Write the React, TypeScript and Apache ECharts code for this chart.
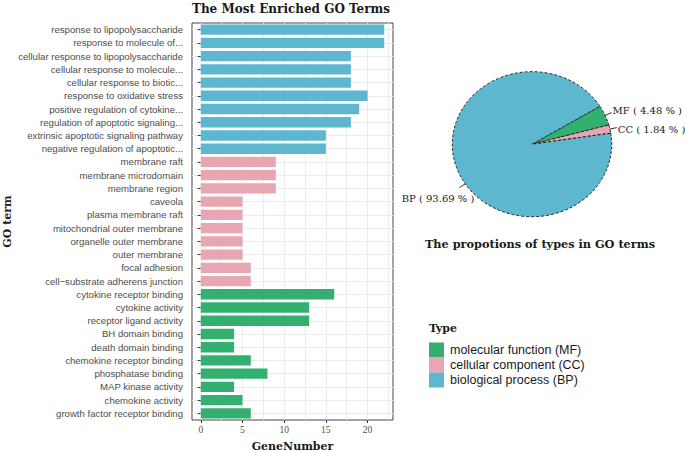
import React, { useEffect, useRef } from "react";
import * as echarts from "echarts";

// ---------- data ----------
const bpTerms = [
  "response to lipopolysaccharide",
  "response to molecule of...",
  "cellular response to lipopolysaccharide",
  "cellular response to molecule...",
  "cellular response to biotic...",
  "response to oxidative stress",
  "positive regulation of cytokine...",
  "regulation of apoptotic signaling...",
  "extrinsic apoptotic signaling pathway",
  "negative regulation of apoptotic...",
];
const bpCounts = [22, 22, 18, 18, 18, 20, 19, 18, 15, 15];

const ccTerms = [
  "membrane raft",
  "membrane microdomain",
  "membrane region",
  "caveola",
  "plasma membrane raft",
  "mitochondrial outer membrane",
  "organelle outer membrane",
  "outer membrane",
  "focal adhesion",
  "cell\u2212substrate adherens junction",
];
const ccCounts = [9, 9, 9, 5, 5, 5, 5, 5, 6, 6];

const mfTerms = [
  "cytokine receptor binding",
  "cytokine activity",
  "receptor ligand activity",
  "BH domain binding",
  "death domain binding",
  "chemokine receptor binding",
  "phosphatase binding",
  "MAP kinase activity",
  "chemokine activity",
  "growth factor receptor binding",
];
const mfCounts = [16, 13, 13, 4, 4, 6, 8, 4, 5, 6];

const typeNames = ["molecular function (MF)", "cellular component (CC)", "biological process (BP)"];
const pieLabels = ["MF", "CC", "BP"];
const piePercents = [4.48, 1.84, 93.69];

const xMajorTicks = [0, 5, 10, 15, 20];
const xMinorGrid = [0, 2.5, 5, 7.5, 10, 12.5, 15, 17.5, 20, 22.5];

// ---------- style ----------
const COLORS = { MF: "#33b06f", CC: "#e8a6b3", BP: "#5db7cf" };
const SERIF_BOLD = '"DejaVu Serif", serif';
const SANS = '"Liberation Sans", Arial, sans-serif';

export default function App() {
  const ref = useRef<HTMLDivElement>(null);

  useEffect(() => {
    document.body.style.margin = "0";
    if (!ref.current) return;
    const chart = echarts.init(ref.current, null, { renderer: "svg" });

    const categories = [...bpTerms, ...ccTerms, ...mfTerms];
    const seriesData = (terms: string[], counts: number[]) =>
      categories.map((c) => {
        const i = terms.indexOf(c);
        return i >= 0 ? counts[i] : "-";
      });

    const groups = [
      { name: typeNames[0], color: COLORS.MF, data: seriesData(mfTerms, mfCounts) },
      { name: typeNames[1], color: COLORS.CC, data: seriesData(ccTerms, ccCounts) },
      { name: typeNames[2], color: COLORS.BP, data: seriesData(bpTerms, bpCounts) },
    ];

    // pie geometry (ellipse)
    const pcx = 532, pcy = 144.2, rx = 79.7, ry = 72.5;
    const startDeg = 31.5;
    const pieColors = [COLORS.MF, COLORS.CC, COLORS.BP];
    const labelAngleShift = [0, 0, -13];
    const labelOffsets = [
      { dx: 1, dy: -2, align: "left" },
      { dx: 1, dy: 1.5, align: "left" },
      { dx: 15, dy: 11, align: "right" },
    ];
    const total = piePercents.reduce((a, b) => a + b, 0);

    const renderPie = (params: any) => {
      const i = params.dataIndex;
      let start = (-startDeg * Math.PI) / 180;
      for (let j = 0; j < i; j++) start += (piePercents[j] / total) * Math.PI * 2;
      const end = start + (piePercents[i] / total) * Math.PI * 2;
      const mid = (start + end) / 2 + (labelAngleShift[i] * Math.PI) / 180;
      const px = rx * Math.cos(mid), py = ry * Math.sin(mid);
      const qx = (rx + 7) * Math.cos(mid), qy = (ry + 7) * Math.sin(mid);
      const off = labelOffsets[i];
      return {
        type: "group",
        x: pcx,
        y: pcy,
        children: [
          {
            type: "sector",
            scaleY: ry / rx,
            shape: { cx: 0, cy: 0, r0: 0, r: rx, startAngle: start, endAngle: end, clockwise: true },
            style: {
              fill: pieColors[i],
              stroke: "#1a1a1a",
              lineWidth: 1,
              lineDash: [3, 2],
              strokeNoScale: true,
            },
          },
          {
            type: "line",
            shape: { x1: px, y1: py, x2: qx, y2: qy },
            style: { stroke: "#1a1a1a", lineWidth: 0.9 },
          },
          {
            type: "text",
            x: qx + off.dx,
            y: qy + off.dy,
            style: {
              text: `${pieLabels[i]} ( ${piePercents[i].toFixed(2)} % )`,
              font: '10px "DejaVu Serif", serif',
              fill: "#1a1a1a",
              align: off.align,
              verticalAlign: "middle",
            },
          },
        ],
      };
    };

    const option: any = {
      animation: false,
      backgroundColor: "#ffffff",
      grid: {
        left: 192,
        top: 23,
        width: 201,
        height: 397,
        show: true,
        borderColor: "#444444",
        borderWidth: 1,
        backgroundColor: "transparent",
        containLabel: false,
        outerBoundsMode: "none",
      },
      legend: {
        orient: "vertical",
        left: 429,
        top: 342.5,
        padding: 0,
        itemWidth: 15,
        itemHeight: 15,
        itemGap: 0,
        icon: "rect",
        selectedMode: false,
        data: typeNames,
        textStyle: { fontFamily: SANS, fontSize: 12.5, color: "#1a1a1a", padding: [0, 0, 0, 1] },
      },
      xAxis: [
        {
          type: "value",
          min: -1.05,
          max: 23.05,
          position: "bottom",
          name: "GeneNumber",
          nameLocation: "middle",
          nameGap: 21,
          nameTextStyle: { fontFamily: SERIF_BOLD, fontWeight: "bold", fontSize: 11, color: "#1a1a1a" },
          axisLine: { show: false },
          axisTick: { show: true, length: 3, customValues: xMajorTicks, lineStyle: { color: "#333333" } },
          axisLabel: {
            customValues: xMajorTicks,
            fontFamily: '"Liberation Serif", serif',
            fontSize: 9.5,
            color: "#4d4d4d",
            margin: 5,
          },
          splitLine: { show: false },
        },
        {
          type: "value",
          min: -1.05,
          max: 23.05,
          position: "bottom",
          axisLine: { show: false },
          axisTick: { show: false, customValues: xMinorGrid },
          axisLabel: { show: false, customValues: xMinorGrid },
          splitLine: { show: true, lineStyle: { color: "#ebebeb", width: 1 } },
        },
      ],
      yAxis: {
        type: "category",
        inverse: true,
        data: categories,
        name: "GO term",
        nameLocation: "middle",
        nameGap: 179,
        nameRotate: 90,
        nameTextStyle: { fontFamily: SERIF_BOLD, fontWeight: "bold", fontSize: 11, color: "#1a1a1a" },
        axisLine: { show: false },
        axisTick: { show: true, length: 3, alignWithLabel: true, lineStyle: { color: "#333333" } },
        axisLabel: { fontFamily: SANS, fontSize: 9.6, color: "#4d4d4d", margin: 9, interval: 0 },
        splitLine: { show: true, alignWithLabel: true, lineStyle: { color: "#ebebeb", width: 1 } },
      },
      title: [
        {
          text: "The Most Enriched GO Terms",
          left: 291,
          top: 3,
          padding: 0,
          textAlign: "center",
          textStyle: { fontFamily: SERIF_BOLD, fontWeight: "bold", fontSize: 12, color: "#1a1a1a" },
        },
        {
          text: "The propotions of types in GO terms",
          left: 540,
          top: 238,
          padding: 0,
          textAlign: "center",
          textStyle: { fontFamily: SERIF_BOLD, fontWeight: "bold", fontSize: 11.3, color: "#1a1a1a" },
        },
        {
          text: "Type",
          left: 429,
          top: 323,
          padding: 0,
          textStyle: { fontFamily: SERIF_BOLD, fontWeight: "bold", fontSize: 11, color: "#1a1a1a" },
        },
      ],
      series: [
        ...groups.map((g) => ({
          name: g.name,
          type: "bar",
          stack: "all",
          xAxisIndex: 0,
          barCategoryGap: "22%",
          itemStyle: { color: g.color },
          data: g.data,
        })),
        {
          type: "custom",
          coordinateSystem: "none",
          silent: true,
          renderItem: renderPie,
          data: piePercents,
        },
      ],
    };

    chart.setOption(option);
    return () => chart.dispose();
  }, []);

  return <div ref={ref} style={{ width: 685, height: 452 }} />;
}
